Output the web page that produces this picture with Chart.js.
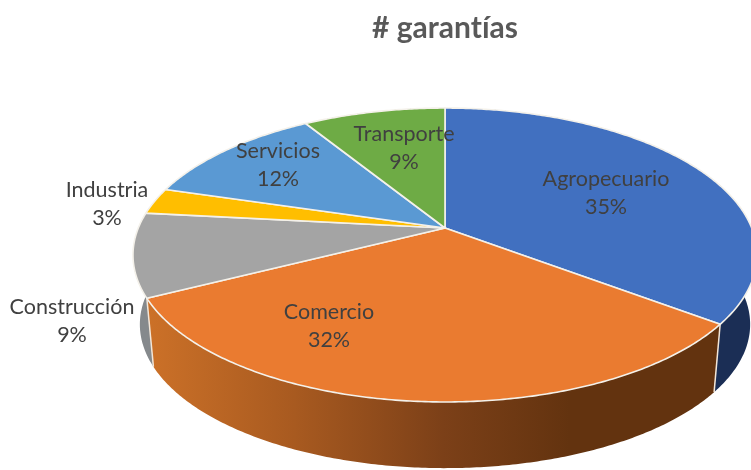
<!DOCTYPE html>
<html><head><meta charset="utf-8">
<style>html,body{margin:0;padding:0;background:#fff}#w{width:751px;height:470px;position:relative}</style>
<script src="https://cdn.jsdelivr.net/npm/chart.js@4"></script>
</head><body><div id="w"><canvas id="c" width="751" height="470"></canvas></div>
<script>
const titleText = '# garantías';
const categories = ['Agropecuario','Comercio','Construcción','Industria','Servicios','Transporte'];
const shares = [35.3,32.2,9.2,2.9,11.6,8.8];
const faceColors = ['#4170C0','#EA7B30','#A4A4A4','#FFBE00','#5A99D3','#6EAB45'];
const wallColors = ['#1B2E55','#6A3510','#85898C','#997300','#2F5F8F','#3F6A28'];

// view of the tilted disc
const view = {cx:445, cy:228, a:306.7, b:142, k:0.1837, depth:70, shrink:0.978};
// label anchor per category (layout only)
const labelAt = [[606,179],[329,312],[72,307],[107,190],[278,151],[404,134]];

function rim(theta, lower){
  // library angles: 0 = +x, clockwise
  const u = Math.cos(theta), v = Math.sin(theta), d = 1 - view.k*v;
  const s = lower ? view.shrink : 1;
  return [view.cx + s*view.a*u/d, view.cy + (lower?view.depth:0) + s*view.b*v/d];
}
function rimPath(ctx, from, to, lower){
  const n = Math.max(2, Math.ceil(Math.abs(to-from)/0.01));
  for(let i=0;i<=n;i++){
    const p = rim(from+(to-from)*i/n, lower);
    ctx.lineTo(p[0],p[1]);
  }
}
const tilted = {
  id:'tilted',
  beforeDraw(chart){ chart.ctx.textRendering='optimizeSpeed'; },
  beforeDatasetDraw(chart){
    const ctx = chart.ctx, arcs = chart.getDatasetMeta(0).data;
    ctx.save();
    // walls
    arcs.forEach((arc,i)=>{
      const {startAngle:s,endAngle:e} = arc.getProps(['startAngle','endAngle'],true);
      ctx.beginPath();
      rimPath(ctx,s,e,false); rimPath(ctx,e,s,true); ctx.closePath();
      if(i===1){
        const g = ctx.createLinearGradient(146,0,570,0);
        g.addColorStop(0,'#CC7128'); g.addColorStop(.35,'#A85A20');
        g.addColorStop(.7,'#7C4018'); g.addColorStop(1,'#63330F');
        ctx.fillStyle = g;
      } else ctx.fillStyle = wallColors[i];
      ctx.fill();
    });
    // wall seam at the front right and front left
    ctx.strokeStyle='#F3E6D8'; ctx.lineWidth=1.5;
    [arcs[0],arcs[1]].forEach(arc=>{
      const e = arc.getProps(['endAngle'],true).endAngle;
      const p=rim(e,false), q=rim(e,true);
      ctx.beginPath(); ctx.moveTo(p[0],p[1]); ctx.lineTo(q[0],q[1]); ctx.stroke();
    });
    // faces
    arcs.forEach((arc,i)=>{
      const {startAngle:s,endAngle:e} = arc.getProps(['startAngle','endAngle'],true);
      ctx.beginPath(); ctx.moveTo(view.cx,view.cy);
      rimPath(ctx,s,e,false); ctx.closePath();
      ctx.fillStyle = faceColors[i]; ctx.fill();
      ctx.strokeStyle='#F4F1EA'; ctx.lineWidth=1.6; ctx.lineJoin='round'; ctx.stroke();
    });
    // labels
    ctx.fillStyle='#404040'; ctx.font='21.5px Lato, sans-serif';
    ctx.textAlign='center'; ctx.textBaseline='middle';
    categories.forEach((c,i)=>{
      ctx.fillText(c,labelAt[i][0],labelAt[i][1]);
      ctx.fillText(Math.round(shares[i])+'%',labelAt[i][0],labelAt[i][1]+28);
    });
    ctx.restore();
    return false;
  }
};
new Chart(document.getElementById('c'),{
  type:'pie',
  data:{labels:categories,datasets:[{data:shares,backgroundColor:faceColors,borderColor:'#F4F1EA'}]},
  plugins:[tilted],
  options:{responsive:false,animation:false,
    layout:{padding:{left:139,top:10}},
    plugins:{legend:{display:false},tooltip:{enabled:false},
      title:{display:true,text:titleText,color:'#595959',
        font:{family:'Lato, sans-serif',size:30,weight:'bold'},padding:{top:0,bottom:10}}}}
});
</script></body></html>
